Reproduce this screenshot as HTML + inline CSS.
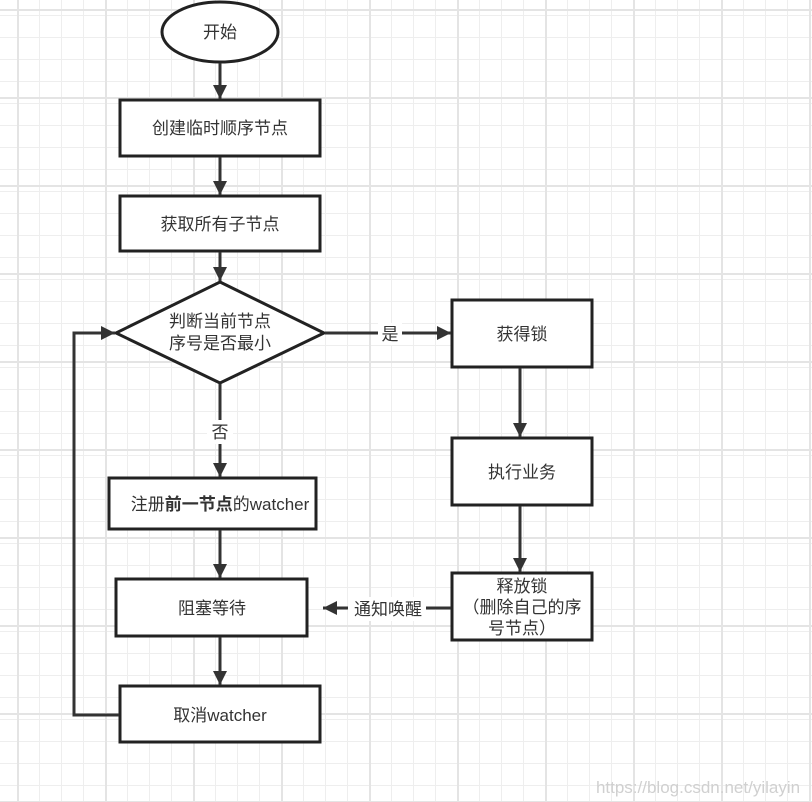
<!DOCTYPE html>
<html><head><meta charset="utf-8"><style>
html,body{margin:0;padding:0;}
body{width:812px;height:802px;overflow:hidden;background:#fff;
background-image:
linear-gradient(to right,#e4e4e4 2px,transparent 2px),
linear-gradient(to bottom,#e4e4e4 2px,transparent 2px),
linear-gradient(to right,#eeeeee 1px,transparent 1px),
linear-gradient(to bottom,#eeeeee 1px,transparent 1px);
background-size:88px 88px,88px 88px,22px 22px,22px 22px;
background-position:17px 9px,17px 9px,17px 15px,17px 15px;}
svg{position:absolute;left:0;top:0;}
text{font-family:"Liberation Sans","Noto Sans CJK SC",sans-serif;font-size:17px;fill:#333;}
</style></head><body>
<svg width="812" height="802" viewBox="0 0 812 802">
<defs><marker id="a" markerWidth="10" markerHeight="10" refX="9" refY="5" orient="auto" markerUnits="userSpaceOnUse"><path d="M0,0 L10,5 L0,10 z" fill="#333"/></marker>
<marker id="b" markerWidth="14" markerHeight="20" refX="14" refY="7" orient="auto" markerUnits="userSpaceOnUse"><path d="M0,0 L14,7 L0,14 z" fill="#333"/></marker></defs>
<g stroke="#222" stroke-width="3" fill="#fff">
<ellipse cx="220" cy="32" rx="58" ry="30"/>
<rect x="120" y="100" width="200" height="56"/>
<rect x="120" y="196" width="200" height="55"/>
<polygon points="220,282 324,333 220,383 116,333"/>
<rect x="452" y="300" width="140" height="67"/>
<rect x="452" y="438" width="140" height="67"/>
<rect x="452" y="573" width="140" height="67"/>
<rect x="109" y="478" width="207" height="51"/>
<rect x="116" y="579" width="191" height="57"/>
<rect x="120" y="686" width="200" height="56"/>
</g>
<g stroke="#333" stroke-width="3" fill="none" marker-end="url(#b)">
<line x1="220" y1="63" x2="220" y2="99"/>
<line x1="220" y1="157" x2="220" y2="195"/>
<line x1="220" y1="252" x2="220" y2="281"/>
<line x1="220" y1="384" x2="220" y2="477"/>
<line x1="220" y1="530" x2="220" y2="578"/>
<line x1="220" y1="637" x2="220" y2="685"/>
<line x1="325" y1="333" x2="451" y2="333"/>
<line x1="520" y1="368" x2="520" y2="437"/>
<line x1="520" y1="506" x2="520" y2="572"/>
<line x1="451" y1="608" x2="323" y2="608"/>
<polyline points="119,715 74,715 74,333 115,333"/>
</g>
<rect x="378" y="323" width="24" height="22" fill="#fff"/>
<rect x="207" y="420" width="26" height="24" fill="#fff"/>
<rect x="348" y="597" width="78" height="24" fill="#fff"/>
<g text-anchor="middle">
<text x="220" y="38">开始</text>
<text x="220" y="134">创建临时顺序节点</text>
<text x="220" y="230">获取所有子节点</text>
<text x="220" y="327" font-size="16">判断当前节点</text>
<text x="220" y="349" font-size="16">序号是否最小</text>
<text x="390" y="340" font-size="16">是</text>
<text x="220" y="438" font-size="16">否</text>
<text x="522" y="340">获得锁</text>
<text x="522" y="478">执行业务</text>
<text x="522" y="592" font-size="16">释放锁</text>
<text x="522" y="613" font-size="16">（删除自己的序</text>
<text x="522" y="634" font-size="16">号节点）</text>
<text x="220" y="510" font-size="16">注册<tspan font-weight="bold">前一节点</tspan>的watcher</text>
<text x="212" y="614">阻塞等待</text>
<text x="220" y="721">取消watcher</text>
<text x="388" y="615" font-size="16">通知唤醒</text>
<text x="698" y="793" font-size="13" fill="#ccc" style="fill:#d0d0d0">https://blog.csdn.net/yilayin</text>
</g>
</svg>
</body></html>
